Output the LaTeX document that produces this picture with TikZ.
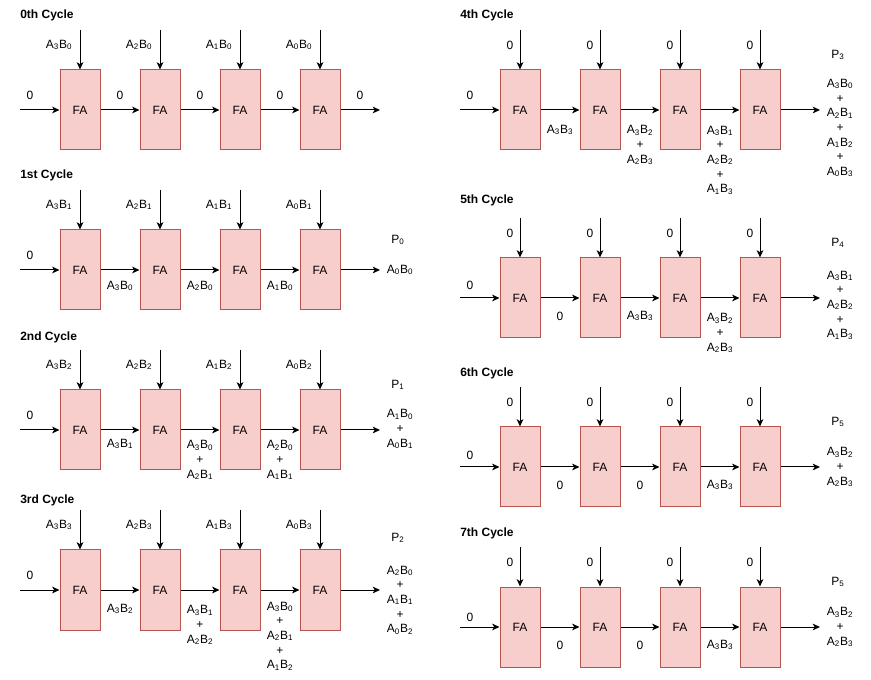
\documentclass[tikz,border=0pt]{standalone}
\usepackage{fontspec}
\setmainfont{Liberation Sans}
\usetikzlibrary{arrows.meta}
\definecolor{faFill}{HTML}{F8CECC}
\definecolor{faStroke}{HTML}{B85450}
\newcommand{\prodAB}[2]{A\textsubscript{#1}B\textsubscript{#2}}
\newcommand{\Pout}[1]{P\textsubscript{#1}}
\tikzset{
 fa/.style={draw=faStroke, fill=faFill, line width=0.75pt, minimum width=30pt, minimum height=60pt, inner sep=0pt, font=\fontsize{9}{11}\selectfont},
 lbl/.style={inner sep=0pt, align=center, font=\fontsize{9}{11}\selectfont},
 ttl/.style={inner sep=0pt, anchor=west, font=\fontsize{9}{11}\selectfont\bfseries},
 arr/.style={line width=0.75pt, -{Stealth[length=5.5pt,width=5pt,inset=1.5pt]}},
}
% #1 id, #2 x of first box left, #3 title y, #4 arrow top y, #5 box top y, #6 title
\newcommand{\cyclerow}[6]{%
  \node[ttl] (#1t) at ({#2-40},#3) {#6};
  \foreach \i in {1,...,4} {
    \node[fa] (#1b\i) at ({#2+20+(\i-1)*80},{#5+40}) {FA};
    \coordinate (#1v\i) at ({#2+20+(\i-1)*80},#4);
    \draw[arr] (#1v\i) -- (#1b\i.north);
  }
  \coordinate (#1in) at ({#2-40},{#5+40});
  \coordinate (#1out) at ({#2+320},{#5+40});
  \draw[arr] (#1in) -- (#1b1.west);
  \draw[arr] (#1b1.east) -- (#1b2.west);
  \draw[arr] (#1b2.east) -- (#1b3.west);
  \draw[arr] (#1b3.east) -- (#1b4.west);
  \draw[arr] (#1b4.east) -- (#1out);
}
% #1 id, #2 x of first box left, #3 label y, #4 dx, #5..#8 labels
\newcommand{\vlabels}[8]{%
  \node[lbl] (#1va) at ({#2+20+#4},#3) {#5};
  \node[lbl] (#1vb) at ({#2+100+#4},#3) {#6};
  \node[lbl] (#1vc) at ({#2+180+#4},#3) {#7};
  \node[lbl] (#1vd) at ({#2+260+#4},#3) {#8};
}
\begin{document}
\begin{tikzpicture}[x=0.75pt,y=-0.75pt]
\useasboundingbox (0,0) rectangle (871,680);

% ---- 0th cycle
\cyclerow{c0}{60}{15}{30}{70}{0th Cycle}
\vlabels{c0}{60}{45}{-21}{\prodAB{3}{0}}{\prodAB{2}{0}}{\prodAB{1}{0}}{\prodAB{0}{0}}
\node[lbl] (c0h0) at (30,95) {0};
\node[lbl] (c0h1) at (120,95) {0};
\node[lbl] (c0h2) at (200,95) {0};
\node[lbl] (c0h3) at (280,95) {0};
\node[lbl] (c0h4) at (360,95) {0};

% ---- 1st cycle
\cyclerow{c1}{60}{175}{190}{230}{1st Cycle}
\vlabels{c1}{60}{205}{-21}{\prodAB{3}{1}}{\prodAB{2}{1}}{\prodAB{1}{1}}{\prodAB{0}{1}}
\node[lbl] (c1h0) at (30,255) {0};
\node[lbl] (c1h1) at (120,286) {\prodAB{3}{0}};
\node[lbl] (c1h2) at (200,286) {\prodAB{2}{0}};
\node[lbl] (c1h3) at (280,286) {\prodAB{1}{0}};
\node[lbl] (c1p) at (398,240) {\Pout{0}};
\node[lbl] (c1o) at (400,270) {\prodAB{0}{0}};

% ---- 2nd cycle
\cyclerow{c2}{60}{337}{350}{390}{2nd Cycle}
\vlabels{c2}{60}{365}{-21}{\prodAB{3}{2}}{\prodAB{2}{2}}{\prodAB{1}{2}}{\prodAB{0}{2}}
\node[lbl] (c2h0) at (30,415) {0};
\node[lbl] (c2h1) at (120,444) {\prodAB{3}{1}};
\node[lbl] (c2h2) at (200,460) {\prodAB{3}{0}\\+\\\prodAB{2}{1}};
\node[lbl] (c2h3) at (280,460) {\prodAB{2}{0}\\+\\\prodAB{1}{1}};
\node[lbl] (c2p) at (398,385) {\Pout{1}};
\node[lbl] (c2o) at (400,429) {\prodAB{1}{0}\\+\\\prodAB{0}{1}};

% ---- 3rd cycle
\cyclerow{c3}{60}{500}{510}{550}{3rd Cycle}
\vlabels{c3}{60}{525}{-21}{\prodAB{3}{3}}{\prodAB{2}{3}}{\prodAB{1}{3}}{\prodAB{0}{3}}
\node[lbl] (c3h0) at (30,575) {0};
\node[lbl] (c3h1) at (120,609) {\prodAB{3}{2}};
\node[lbl] (c3h2) at (200,625) {\prodAB{3}{1}\\+\\\prodAB{2}{2}};
\node[lbl] (c3h3) at (280,636) {\prodAB{3}{0}\\+\\\prodAB{2}{1}\\+\\\prodAB{1}{2}};
\node[lbl] (c3p) at (398,538) {\Pout{2}};
\node[lbl] (c3o) at (400,600) {\prodAB{2}{0}\\+\\\prodAB{1}{1}\\+\\\prodAB{0}{2}};

% ---- 4th cycle
\cyclerow{c4}{500}{15}{30}{70}{4th Cycle}
\vlabels{c4}{500}{45}{-10}{0}{0}{0}{0}
\node[lbl] (c4h0) at (470,95) {0};
\node[lbl] (c4h1) at (560,130) {\prodAB{3}{3}};
\node[lbl] (c4h2) at (640,145) {\prodAB{3}{2}\\+\\\prodAB{2}{3}};
\node[lbl] (c4h3) at (720,160) {\prodAB{3}{1}\\+\\\prodAB{2}{2}\\+\\\prodAB{1}{3}};
\node[lbl] (c4p) at (838,55) {\Pout{3}};
\node[lbl] (c4o) at (840,128) {\prodAB{3}{0}\\+\\\prodAB{2}{1}\\+\\\prodAB{1}{2}\\+\\\prodAB{0}{3}};

% ---- 5th cycle
\cyclerow{c5}{500}{200}{218}{258}{5th Cycle}
\vlabels{c5}{500}{233}{-10}{0}{0}{0}{0}
\node[lbl] (c5h0) at (470,285) {0};
\node[lbl] (c5h1) at (560,316) {0};
\node[lbl] (c5h2) at (640,316) {\prodAB{3}{3}};
\node[lbl] (c5h3) at (720,333) {\prodAB{3}{2}\\+\\\prodAB{2}{3}};
\node[lbl] (c5p) at (838,243) {\Pout{4}};
\node[lbl] (c5o) at (840,305) {\prodAB{3}{1}\\+\\\prodAB{2}{2}\\+\\\prodAB{1}{3}};

% ---- 6th cycle
\cyclerow{c6}{500}{373}{387}{427}{6th Cycle}
\vlabels{c6}{500}{402}{-10}{0}{0}{0}{0}
\node[lbl] (c6h0) at (470,455) {0};
\node[lbl] (c6h1) at (560,485) {0};
\node[lbl] (c6h2) at (640,485) {0};
\node[lbl] (c6h3) at (720,485) {\prodAB{3}{3}};
\node[lbl] (c6p) at (838,422) {\Pout{5}};
\node[lbl] (c6o) at (840,467) {\prodAB{3}{2}\\+\\\prodAB{2}{3}};

% ---- 7th cycle
\cyclerow{c7}{500}{533}{547}{587}{7th Cycle}
\vlabels{c7}{500}{562}{-10}{0}{0}{0}{0}
\node[lbl] (c7h0) at (470,617) {0};
\node[lbl] (c7h1) at (560,645) {0};
\node[lbl] (c7h2) at (640,645) {0};
\node[lbl] (c7h3) at (720,645) {\prodAB{3}{3}};
\node[lbl] (c7p) at (838,582) {\Pout{5}};
\node[lbl] (c7o) at (840,627) {\prodAB{3}{2}\\+\\\prodAB{2}{3}};
\end{tikzpicture}
\end{document}
